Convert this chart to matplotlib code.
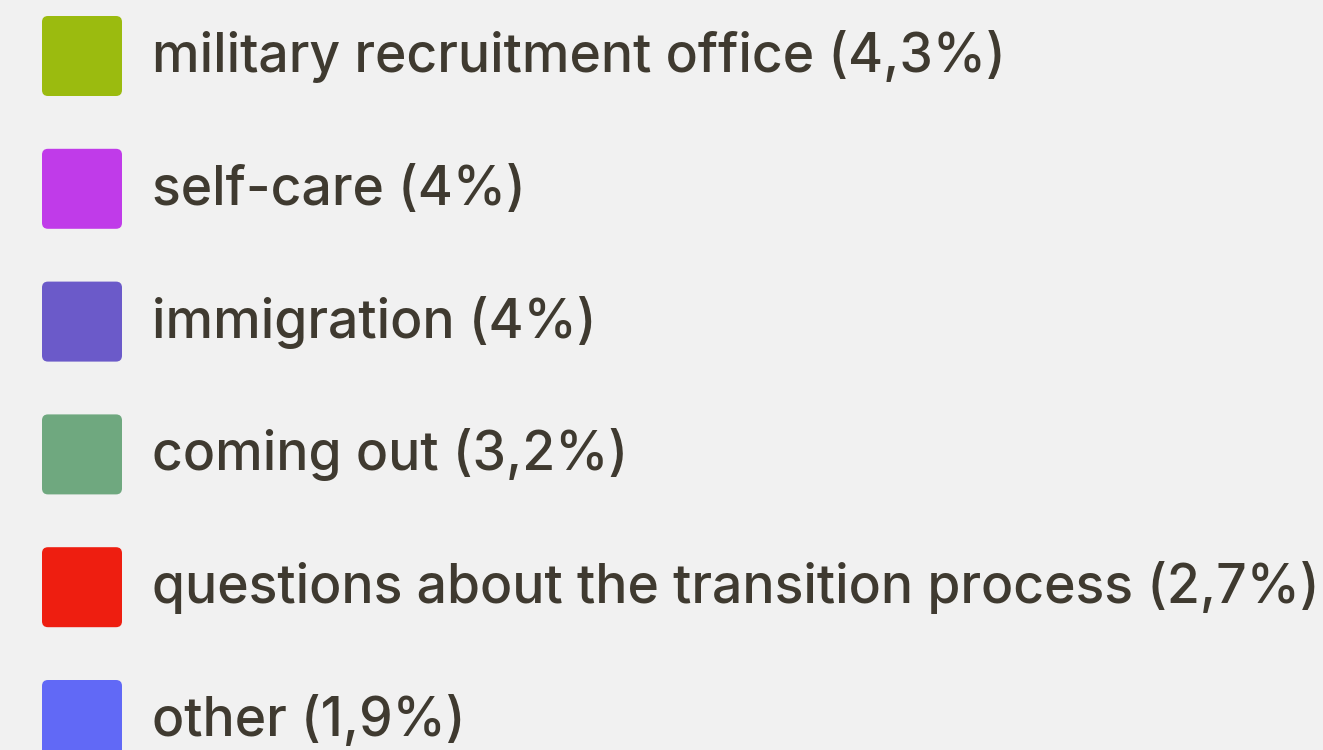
import matplotlib.pyplot as plt
from matplotlib.patches import FancyBboxPatch

labels = ['military recruitment office', 'self-care', 'immigration',
          'coming out', 'questions about the transition process', 'other']
values = ['4,3', '4', '4', '3,2', '2,7', '1,9']
colors = ['#9bbb0f', '#c03be9', '#6b5ac9', '#6fa87f', '#ee1e10', '#6169f6']

bg = '#f1f1f1'
text_color = '#3f3a30'

fig = plt.figure(figsize=(13.23, 7.5), dpi=100, facecolor=bg)
ax = fig.add_axes((0, 0, 1, 1))
ax.set_xlim(0, 1323)
ax.set_ylim(750, 0)
ax.axis('off')

row_step = 132.8
first_top = 16
size = 80

for i, (lab, val, col) in enumerate(zip(labels, values, colors)):
    top = first_top + i * row_step
    ax.add_patch(FancyBboxPatch((42 + 6, top + 6), size - 12, size - 12,
                                boxstyle='round,pad=6', fc=col, ec='none'))
    ax.text(152, top + 56, f'{lab} ({val}%)', fontsize=38.5, fontweight='medium',
            family='Inter', color=text_color, va='baseline', ha='left')

fig.savefig('out.png', dpi=100, facecolor=bg)
